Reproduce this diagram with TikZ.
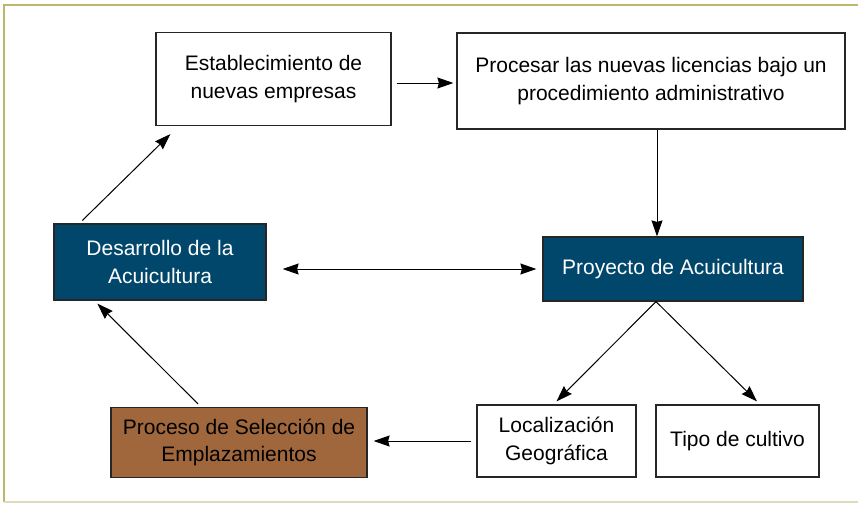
\documentclass[tikz,border=0pt]{standalone}
\usepackage{fontspec}
\setmainfont{Liberation Sans}
\usetikzlibrary{arrows.meta}
\definecolor{acuiblue}{RGB}{0,71,107}
\definecolor{sitebrown}{RGB}{160,103,61}
\definecolor{frameolive}{RGB}{189,183,107}
\definecolor{framelight}{RGB}{222,219,190}

\begin{document}
\begin{tikzpicture}[x=1pt,y=-1pt,
    box/.style={draw=black!85,line width=1.2pt,align=center,inner sep=0pt,
      font=\fontsize{21}{27.5}\selectfont},
    darkbox/.style={box,fill=acuiblue,text=white},
    >={Stealth[length=16pt,width=11pt,inset=1.5pt]}]

        \useasboundingbox (0,0) rectangle (858,504);
        \draw[frameolive,line width=2pt] (4,502) -- (4,5) -- (858,5);
        \draw[framelight,line width=2pt] (4,502) -- (858,502);

        \begin{scope}[every node/.style={box,fill=white}]
          \node[minimum width=235pt,minimum height=93pt] (est)  at (273.5,79)   {Establecimiento de\\nuevas empresas};
          \node[minimum width=388pt,minimum height=96pt] (proc) at (651,81)     {Procesar las nuevas licencias bajo un\\procedimiento administrativo};
          \node[minimum width=159pt,minimum height=72pt] (loc)  at (556.5,441)  {Localización\\Geográfica};
          \node[minimum width=163pt,minimum height=72pt] (tipo) at (737.5,441)  {Tipo de cultivo};
        \end{scope}

        \node[darkbox,minimum width=212pt,minimum height=76pt] (des) at (160,262) {Desarrollo de la\\Acuicultura};
        \node[darkbox,minimum width=260pt,minimum height=64pt] (pry) at (673,269) {Proyecto de Acuicultura};
        \node[box,fill=sitebrown,minimum width=256pt,minimum height=70pt] (sel) at (239,442.5) {Proceso de Selección de\\Emplazamientos};

        \begin{scope}[every edge/.style={draw,line width=1pt}]
          \path ([xshift=5pt,yshift=-4pt]est.east)     edge[->] ([xshift=-3pt,yshift=-2pt]proc.west);
          \path ([xshift=6pt]proc.south)               edge[->] ([xshift=-16pt]pry.north);
          \path ([xshift=16pt,yshift=-7pt]des.east)    edge[<->] ([xshift=-6pt]pry.west);
          \path ([xshift=-17pt]pry.south)              edge[->] ([yshift=3pt]loc.north);
          \path ([xshift=-17pt]pry.south)              edge[->] ([xshift=19.5pt,yshift=3pt]tipo.north);
          \path ([xshift=-5pt]loc.west)                edge[->] ([xshift=6pt]sel.east |- loc.west);
          \path ([xshift=-41pt,yshift=3pt]sel.north)   edge[->] ([xshift=44pt,yshift=-3pt]des.south west);
          \path ([xshift=29pt,yshift=3pt]des.north west) edge[->] ([xshift=15pt,yshift=-8pt]est.south west);
        \end{scope}

      \end{tikzpicture}
\end{document}
